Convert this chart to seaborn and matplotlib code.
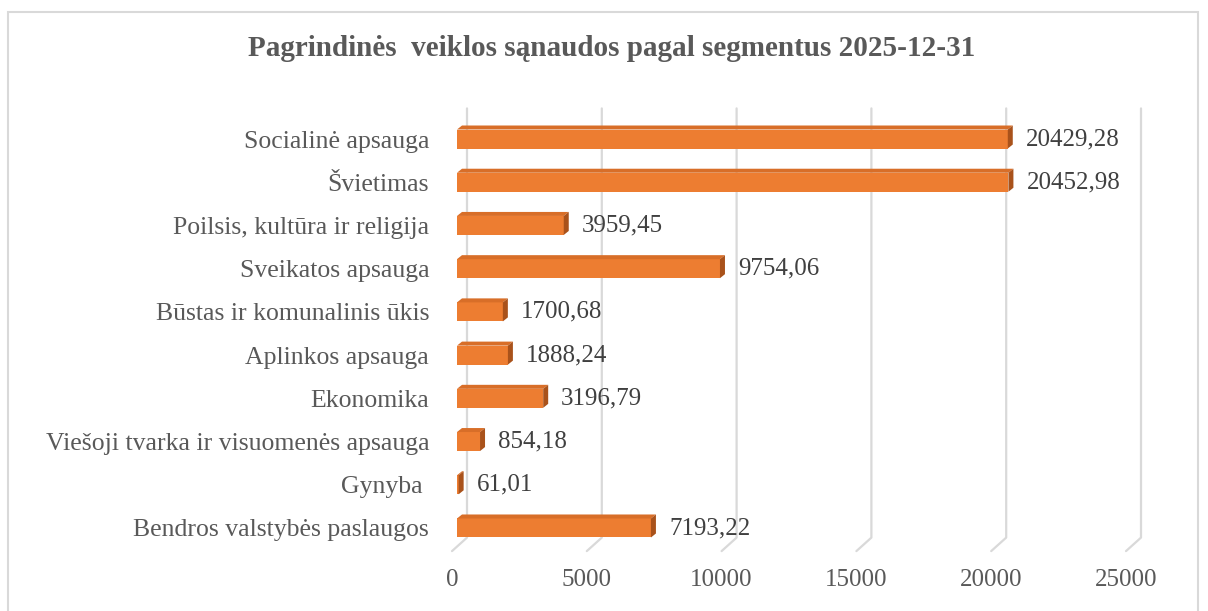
import matplotlib
matplotlib.use("Agg")
import matplotlib.pyplot as plt
import matplotlib.transforms as mtransforms
from matplotlib.patches import Polygon, Rectangle
from matplotlib.lines import Line2D
import seaborn as sns
import pandas as pd

# ---- data ----
categories = [
    "Socialinė apsauga",
    "Švietimas",
    "Poilsis, kultūra ir religija",
    "Sveikatos apsauga",
    "Būstas ir komunalinis ūkis",
    "Aplinkos apsauga",
    "Ekonomika",
    "Viešoji tvarka ir visuomenės apsauga",
    "Gynyba ",
    "Bendros valstybės paslaugos",
]
values = [20429.28, 20452.98, 3959.45, 9754.06, 1700.68, 1888.24, 3196.79, 854.18, 61.01, 7193.22]
x_ticks = [0, 5000, 10000, 15000, 20000, 25000]
title = "Pagrindinės  veiklos sąnaudos pagal segmentus 2025-12-31"

FRONT = "#ED7D31"
TOP = "#D86E28"
SIDE = "#A9521B"
TEXT = "#595959"
VALTEXT = "#404040"
GRID = "#D9D9D9"

sns.set_theme(style="white")
plt.rcParams['font.family'] = ['Liberation Serif', 'DejaVu Serif']

W, H = 1208, 611
fig = plt.figure(figsize=(W / 100, H / 100), dpi=100)
fig.patch.set_facecolor("white")

ax_top_px, ax_bot_px = 117.4, 549.6
ax = fig.add_axes([457 / W, 1 - ax_bot_px / H, 674 / W, (ax_bot_px - ax_top_px) / H])
ax.set_facecolor("none")

df = pd.DataFrame({"cat": categories, "val": values})
sns.barplot(data=df, y="cat", x="val", orient="h", color=FRONT, width=0.44,
            saturation=1, ax=ax, zorder=3, linewidth=0)
ax.set_xlim(0, 25000)
ax.set_ylim(9.5, -0.5)
for s in ax.spines.values():
    s.set_visible(False)
ax.set_xlabel("")
ax.set_ylabel("")

# ticks
ax.set_xticks(x_ticks)
ax.set_xticklabels([str(t) for t in x_ticks])
ax.tick_params(axis="x", length=0, pad=14, labelsize=18, labelcolor=TEXT)
ax.tick_params(axis="y", length=0, pad=20, labelsize=18.5, labelcolor=TEXT)
shift = mtransforms.ScaledTranslation(-5 / 100, 0, fig.dpi_scale_trans)
for lab in ax.get_xticklabels():
    lab.set_transform(lab.get_transform() + shift)

fig.canvas.draw()
ident = mtransforms.IdentityTransform()

# 3D faces of bars
dx, dy = 5, 4
for p in list(ax.patches):
    (x0, y0), (x1, y1) = ax.transData.transform(
        [(p.get_x(), p.get_y()), (p.get_x() + p.get_width(), p.get_y() + p.get_height())])
    ylo, yhi = min(y0, y1), max(y0, y1)
    top = Polygon([(x0, yhi), (x1, yhi), (x1 + dx, yhi + dy), (x0 + dx, yhi + dy)],
                  closed=True, transform=ident, facecolor=TOP, edgecolor="none",
                  zorder=3, clip_on=False)
    side = Polygon([(x1, ylo), (x1, yhi), (x1 + dx, yhi + dy), (x1 + dx, ylo + dy)],
                   closed=True, transform=ident, facecolor=SIDE, edgecolor="none",
                   zorder=3, clip_on=False)
    ax.add_artist(top)
    ax.add_artist(side)

# back-wall gridlines with floor diagonals
(ax_l, ax_b), (ax_r, ax_t) = ax.transAxes.transform([(0, 0), (1, 1)])
for t in x_ticks:
    xd = ax.transData.transform((t, 0))[0]
    ln = Line2D([xd + 10, xd + 10, xd - 5], [ax_t + 9, ax_b + 12, ax_b - 1.5],
                transform=ident, color=GRID, linewidth=1.6, zorder=1, clip_on=False)
    ax.add_artist(ln)

# value labels
lab_off = mtransforms.ScaledTranslation(18 / 100, 0, fig.dpi_scale_trans)
for i, v in enumerate(values):
    ax.text(v, i, f"{v:.2f}".replace(".", ","), transform=ax.transData + lab_off,
            ha="left", va="center", fontsize=18, color=VALTEXT, zorder=4)

# title
fig.text(612 / W, 1 - 48 / H, title, ha="center", va="center", fontsize=21,
         fontweight="bold", color=TEXT)

# outer frame
fig.add_artist(Rectangle((8 / W, -0.05), (1198 - 8) / W, 1.05 - 12 / H,
                         transform=fig.transFigure, fill=False, edgecolor="#D9D9D9",
                         linewidth=1.5, zorder=0))

fig.savefig("out.png", dpi=100, facecolor="white")
